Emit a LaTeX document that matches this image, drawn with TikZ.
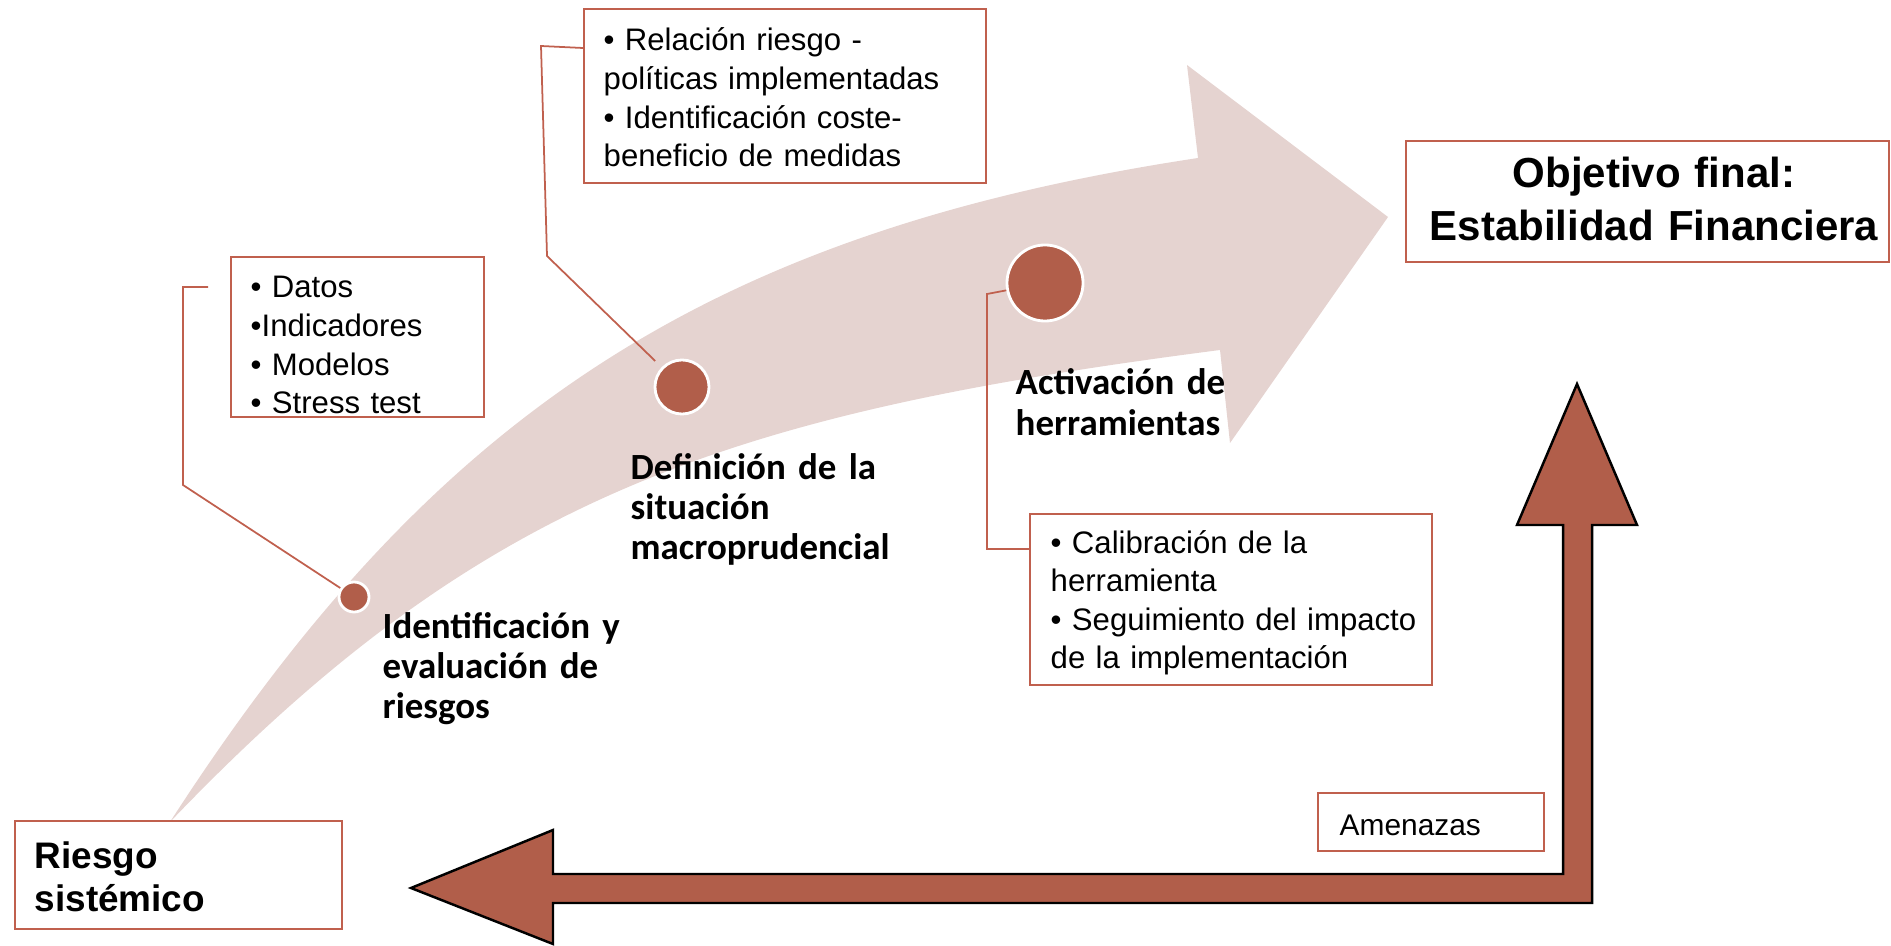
\documentclass[tikz,border=0pt]{standalone}
\usepackage{fontspec}
\usepackage{xcolor}
\usepackage{tikz}
\usetikzlibrary{positioning}
\newfontfamily\helv{Liberation Sans}
\newfontfamily\calib{Carlito}
\definecolor{bandpink}{HTML}{E5D3D0}
\definecolor{rust}{HTML}{B15E4A}
\definecolor{boxred}{HTML}{C0604E}

\begin{document}
\begin{tikzpicture}[x=0.01cm, y=-0.01cm,
  infobox/.style={draw=boxred, line width=0.6pt, fill=white, inner sep=0pt, anchor=north west},
  infotext/.style={font=\helv\fontsize{8.85}{10.95}\selectfont, text width=#1, align=left, inner sep=0pt, anchor=base west},
  steplabel/.style={font=\calib\bfseries\fontsize{10.5}{11.4}\selectfont, text width=5cm, align=left, inner sep=0pt, anchor=base west},
  stepdot/.style={circle, fill=rust, draw=white, line width=0.8pt, inner sep=0pt, minimum size=#1},
  leader/.style={draw=boxred, line width=0.5pt}]
  \useasboundingbox (0,0) rectangle (1891,946);

  \fill[bandpink] (170,822) .. controls (481,497) and (724,414) .. (1220,350) -- (1230,443) -- (1388,217)
    -- (1187,65) -- (1198,158) .. controls (702,233) and (430,419) .. cycle;

  \draw[fill=rust, line width=0.7pt] (411,888) -- (553,830) -- (553,874) -- (1563,874) -- (1563,525)
    -- (1517,525) -- (1577,384) -- (1637,525) -- (1592,525) -- (1592,903) -- (553,903) -- (553,944) -- cycle;

  \node[infobox, minimum width=2.53cm, minimum height=1.60cm] (datos) at (230,256) {};
  \node[infobox, minimum width=4.02cm, minimum height=1.74cm] (relacion) at (583,8) {};
  \node[infobox, minimum width=4.02cm, minimum height=1.71cm] (calibra) at (1029,513) {};
  \node[infobox, minimum width=3.27cm, minimum height=1.08cm] (riesgo) at (14,820) {};
  \node[infobox, minimum width=4.83cm, minimum height=1.21cm] (objetivo) at (1405,140) {};
  \node[infobox, minimum width=2.26cm, minimum height=0.58cm] (amenazas) at (1317,792) {};

  \coordinate (datosend) at (208,287);
  \coordinate (relend) at (583,48);
  \coordinate (calend) at (1029,549);

  \node[stepdot=0.30cm] (c1) at (354,597) {};
  \node[stepdot=0.54cm] (c2) at (682,387) {};
  \node[stepdot=0.76cm] (c3) at (1045,283) {};

  \draw[leader] (c1) -- (183,485) |- (datosend);
  \draw[leader, shorten <=0.09cm] (c2) -- (547,256) -- (541,46) -- (relend);
  \draw[leader] (c3) -- (987,294) |- (calend);

  \node[infotext=2.4cm] (datostxt) at (250,298) {• Datos\\•Indicadores\\• Modelos\\• Stress test};
  \node[infotext=3.9cm] (relaciontxt) at (603,51) {• Relación riesgo -\\políticas implementadas\\• Identificación coste-\\beneficio de medidas};
  \node[infotext=3.9cm] (calibratxt) at (1050,553) {• Calibración de la\\herramienta\\• Seguimiento del impacto\\de la implementación};

  \node[steplabel] (lblident) at (382,638) {Identificación y\\evaluación de\\riesgos};
  \node[steplabel] (lbldef) at (630,479) {Definición de la\\situación\\macroprudencial};
  \node[steplabel] (lblact) at (1015,395) {Activación de\\herramientas};

  \node[font=\helv\bfseries\fontsize{10.5}{12.5}\selectfont, text width=3cm, align=left, inner sep=0pt, anchor=base west] (riesgotxt) at (34,868) {Riesgo\\sistémico};
  \node[font=\helv\bfseries\fontsize{11.95}{14.8}\selectfont, text width=4.7cm, align=center, inner sep=0pt, anchor=base] (objetivotxt) at (1654,188) {Objetivo final:\\Estabilidad Financiera};
  \node[font=\helv\fontsize{8.5}{10}\selectfont, inner sep=0pt, anchor=base west] (amenazastxt) at (1339,835) {Amenazas};
\end{tikzpicture}
\end{document}
